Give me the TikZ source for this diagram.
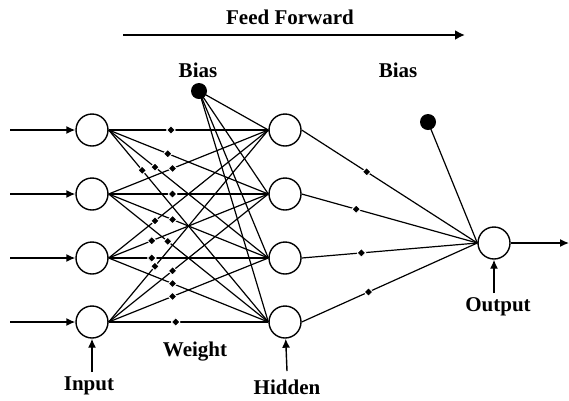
\documentclass[tikz,border=0pt]{standalone}
\usepackage{fontspec}
\setmainfont{Liberation Serif}
\usetikzlibrary{arrows.meta,shapes.geometric}
\begin{document}
\begin{tikzpicture}[x=1pt,y=-1pt,
  neuron/.style={circle,draw,line width=1.4pt,minimum size=32pt,inner sep=0pt,fill=white},
  biasdot/.style={circle,fill=black,minimum size=16pt,inner sep=0pt},
  conn/.style={line width=1.2pt},
  wt/.style={diamond,fill=black,draw=white,line width=1pt,minimum size=9pt,inner sep=0pt},
  lbl/.style={font=\fontsize{21}{25}\selectfont\bfseries},
  inarrow/.style={line width=1.4pt,-{Latex[length=9pt,width=8pt]}}
]
\useasboundingbox (0,0) rectangle (569,400);

% nodes
\foreach \k/\y in {1/130,2/194,3/258,4/322}{
  \node[neuron] (i\k) at (92,\y) {};
  \node[neuron] (h\k) at (285,\y) {};
  \coordinate (s\k) at (10,\y);
}
\node[neuron] (o) at (494,243) {};
\node[biasdot] (b1) at (199,91) {};
\node[biasdot] (b2) at (428,122) {};

% labels
\node[lbl] (ff) at (290,17) {Feed Forward};
\node[lbl] (tb1) at (198,70) {Bias};
\node[lbl] (tb2) at (398,70) {Bias};
\node[lbl] (tw) at (195,352) {Weight};
\node[lbl] (tin) at (89,386) {Input};
\node[lbl] (thid) at (287,387) {Hidden};
\node[lbl] (tout) at (498,307) {Output};

% feed forward arrow
\coordinate (ffa) at (123,35);
\coordinate (ffb) at (465,35);
\draw[line width=2.6pt,-{Latex[length=10pt,width=10pt]}] (ffa) -- (ffb);

% input arrows
\foreach \k in {1,...,4}{
  \draw[inarrow] (s\k) -- (i\k);
}

% input -> hidden with weights
\foreach \i/\j in {1/1,1/2,1/3,1/4,2/1,2/2,2/3,2/4,3/1,3/2,3/3,3/4,4/1,4/2,4/3,4/4}{
  \draw[conn] (i\i.east) -- (h\j.west);
}
\foreach \i/\j/\p in {1/1/0.39,1/2/0.37,1/3/0.29,1/4/0.21,
                      2/1/0.40,2/2/0.40,2/3/0.40,2/4/0.37,
                      3/1/0.29,3/2/0.27,3/3/0.27,3/4/0.40,
                      4/1/0.29,4/2/0.40,4/3/0.40,4/4/0.42}{
  \path (i\i.east) -- node[wt,pos=\p]{} (h\j.west);
}

% bias 1 -> hidden
\foreach \j in {1,...,4}{
  \draw[conn] (b1.center) -- (h\j.west);
}

% hidden -> output
\foreach \j/\p in {1/0.37,2/0.31,3/0.34,4/0.38}{
  \draw[conn] (h\j.east) -- node[wt,pos=\p]{} (o.west);
}
\draw[conn] (b2.center) -- (o.west);

% output arrow
\coordinate (oend) at (569,243);
\draw[inarrow] (o) -- (oend);

% bottom arrows
\coordinate (ain) at (92,372);
\coordinate (ahid) at (287,371);
\coordinate (aout) at (494,293);
\draw[inarrow] (ain) -- (i4);
\draw[inarrow] (ahid) -- (h4);
\draw[inarrow] (aout) -- (o);
\end{tikzpicture}
\end{document}
